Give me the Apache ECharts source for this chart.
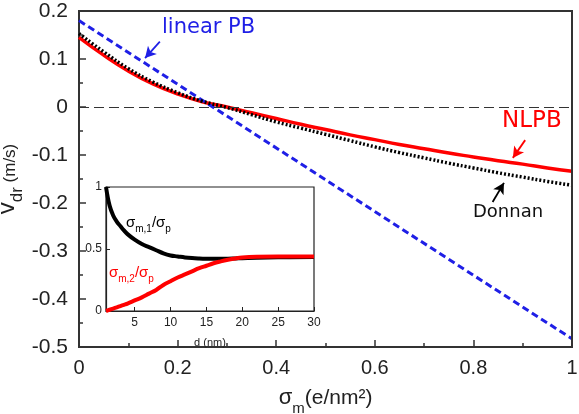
<!DOCTYPE html>
<html>
<head>
<meta charset="utf-8">
<script src="https://cdn.jsdelivr.net/npm/echarts@6/dist/echarts.min.js"></script>
<style>
  html, body { margin: 0; padding: 0; background: #fff; }
  #Chart1 { width: 579px; height: 414px; }
</style>
</head>
<body>
<div id="Chart1"></div>
<script>
// main plot data: drift velocity vs membrane charge
const sigmaM = [0, 0.05, 0.1, 0.15, 0.2, 0.25, 0.3, 0.35, 0.4, 0.45, 0.5, 0.55, 0.6, 0.65, 0.7, 0.75, 0.8, 0.85, 0.9, 0.95, 1.0];
const nlpb = [0.145, 0.108, 0.075, 0.048, 0.027, 0.011, 0.0, -0.012, -0.024, -0.036, -0.047, -0.058, -0.068, -0.078, -0.087, -0.096, -0.104, -0.112, -0.119, -0.127, -0.134];
const donnan = [0.153, 0.115, 0.08, 0.052, 0.03, 0.012, -0.001, -0.016, -0.031, -0.044, -0.057, -0.07, -0.083, -0.095, -0.106, -0.117, -0.127, -0.137, -0.146, -0.155, -0.163];
const linearX = [0, 1];
const linearPB = [0.18, -0.483];

// inset data: charge fractions vs distance
const dNm = [1, 1.5, 2, 2.5, 3, 3.5, 4, 5, 6, 7, 8, 9, 10, 11, 12, 13, 14, 15, 16, 17, 18, 19, 20, 22, 25, 30];
const ratio1 = [1.0, 0.85, 0.77, 0.72, 0.685, 0.65, 0.62, 0.575, 0.54, 0.515, 0.49, 0.465, 0.448, 0.44, 0.432, 0.427, 0.424, 0.422, 0.421, 0.421, 0.422, 0.424, 0.426, 0.43, 0.433, 0.435];
const ratio2 = [0, 0.01, 0.02, 0.03, 0.04, 0.05, 0.06, 0.085, 0.11, 0.14, 0.17, 0.21, 0.24, 0.27, 0.295, 0.32, 0.345, 0.365, 0.385, 0.4, 0.413, 0.424, 0.432, 0.438, 0.44, 0.44];
const insetTicks = [5, 10, 15, 20, 25, 30];

const zip = (xs, ys) => xs.map((x, i) => [x, ys[i]]);

const myChart = echarts.init(document.getElementById("Chart1"));

const axisFont = "Liberation Sans, Arial, sans-serif";
const noteFont = "DejaVu Sans, Verdana, sans-serif";
const frame = "#333";

const arrow = (from, to, color) => ({
  silent: true,
  symbol: ["none", "arrow"],
  symbolSize: [9, 11],
  label: { show: false },
  lineStyle: { color: color, type: "solid", width: 1.8 },
  data: [[{ coord: from }, { coord: to }]],
});

// frame line for the top and right of the main plot
const mirror = {
  show: true, gridIndex: 0, type: "value",
  axisLine: { show: true, onZero: false, lineStyle: { color: frame, width: 2 } },
  axisTick: { show: false }, axisLabel: { show: false }, splitLine: { show: false },
  z: 10,
};

const option = {
  animation: false,
  grid: [
    { left: 79, right: 7, top: 11, bottom: 67, outerBoundsMode: "none", show: true, borderColor: frame, borderWidth: 2 },
    { left: 106, top: 187, width: 208, height: 124, outerBoundsMode: "none", show: true, backgroundColor: "#fff", borderColor: "#222", borderWidth: 1.2, z: 5 },
  ],
  xAxis: [
    {
      gridIndex: 0, type: "value", min: 0, max: 1, interval: 0.2,
      axisLine: { show: true, onZero: false, lineStyle: { color: frame, width: 1.5 } },
      axisTick: { inside: true, length: 7, lineStyle: { color: frame, width: 1.5 } },
      minorTick: { show: true, splitNumber: 2, length: 4, lineStyle: { color: frame, width: 1.5 } },
      splitLine: { show: false },
      axisLabel: { fontFamily: axisFont, fontSize: 20, color: "#222", margin: 11 },
      name: "{s|σ}{sub|m}{n|(e/nm²)}",
      nameLocation: "middle",
      nameGap: 34,
      nameMoveOverlap: false,
      nameTextStyle: {
        rich: {
          s: { fontFamily: axisFont, fontSize: 22, color: "#222", verticalAlign: "bottom", lineHeight: 28 },
          sub: { fontFamily: axisFont, fontSize: 15, color: "#222", verticalAlign: "bottom", padding: [0, 0, -7, 0], lineHeight: 28 },
          n: { fontFamily: axisFont, fontSize: 21, color: "#222", verticalAlign: "bottom", lineHeight: 28 },
        },
      },
    },
    {
      gridIndex: 1, type: "value", min: 1, max: 30,
      axisLine: { show: true, onZero: false, lineStyle: { color: "#222", width: 1.2 } },
      axisTick: { inside: true, length: 4, customValues: insetTicks, lineStyle: { color: "#222" } },
      splitLine: { show: false },
      axisLabel: { fontFamily: axisFont, fontSize: 12, color: "#222", margin: 6, customValues: insetTicks },
      name: "d (nm)",
      nameLocation: "middle",
      nameGap: 26,
      nameMoveOverlap: false,
      nameTextStyle: { fontFamily: axisFont, fontSize: 11, color: "#222" },
      z: 6,
    },
    Object.assign({ position: "top", min: 0, max: 1 }, mirror),
  ],
  yAxis: [
    {
      gridIndex: 0, type: "value", min: -0.5, max: 0.2, interval: 0.1,
      axisLine: { show: true, onZero: false, lineStyle: { color: frame, width: 1.5 } },
      axisTick: { inside: true, length: 7, lineStyle: { color: frame, width: 1.5 } },
      minorTick: { show: true, splitNumber: 2, length: 4, lineStyle: { color: frame, width: 1.5 } },
      splitLine: { show: false },
      axisLabel: { fontFamily: axisFont, fontSize: 21, color: "#222", margin: 11 },
      name: "{v|v}{sub|dr}{n| (m/s)}",
      nameLocation: "middle",
      nameRotate: 90,
      nameGap: 60,
      nameMoveOverlap: false,
      nameTextStyle: {
        rich: {
          v: { fontFamily: axisFont, fontSize: 24, color: "#222", verticalAlign: "bottom", lineHeight: 20 },
          sub: { fontFamily: axisFont, fontSize: 17, color: "#222", verticalAlign: "bottom", padding: [0, 0, -7, 0], lineHeight: 20 },
          n: { fontFamily: axisFont, fontSize: 17, color: "#222", verticalAlign: "bottom", lineHeight: 20 },
        },
      },
    },
    {
      gridIndex: 1, type: "value", min: 0, max: 1, interval: 0.5,
      axisLine: { show: true, onZero: false, lineStyle: { color: "#222", width: 1.2 } },
      axisTick: { inside: true, length: 4, lineStyle: { color: "#222" } },
      splitLine: { show: false },
      axisLabel: { fontFamily: axisFont, fontSize: 12, color: "#222", margin: 4 },
      z: 6,
    },
    Object.assign({ position: "right", min: -0.5, max: 0.2 }, mirror),
  ],
  series: [
    {
      name: "linear PB", type: "line", xAxisIndex: 0, yAxisIndex: 0,
      data: zip(linearX, linearPB), showSymbol: false,
      lineStyle: { color: "#1f1fe6", width: 3, type: [7, 4] },
      markLine: arrow([0.164, 0.136], [0.134, 0.102], "#1f1fe6"),
      z: 3,
    },
    {
      name: "NLPB", type: "line", xAxisIndex: 0, yAxisIndex: 0,
      data: zip(sigmaM, nlpb), showSymbol: false, smooth: true,
      lineStyle: { color: "#ff0000", width: 3.5 },
      markLine: arrow([0.905, -0.069], [0.88, -0.106], "#ff0000"),
      z: 2,
    },
    {
      name: "Donnan", type: "line", xAxisIndex: 0, yAxisIndex: 0,
      data: zip(sigmaM, donnan), showSymbol: false, smooth: true,
      lineStyle: { color: "#000", width: 3.5, type: [2, 2] },
      markLine: arrow([0.839, -0.198], [0.862, -0.158], "#000"),
      z: 3,
    },
    {
      // zero line, bound to the mirror axes so they are laid out too
      name: "zero", type: "line", xAxisIndex: 2, yAxisIndex: 2,
      data: [], showSymbol: false,
      markLine: {
        silent: true, symbol: ["none", "none"], label: { show: false },
        lineStyle: { color: "#333", type: [10, 5], width: 1.2 },
        data: [{ yAxis: 0 }],
      },
      z: 1,
    },
    {
      name: "sigma_m1", type: "line", xAxisIndex: 1, yAxisIndex: 1,
      data: zip(dNm, ratio1), showSymbol: false, smooth: 0.4,
      lineStyle: { color: "#000", width: 4 }, z: 7,
    },
    {
      name: "sigma_m2", type: "line", xAxisIndex: 1, yAxisIndex: 1,
      data: zip(dNm, ratio2), showSymbol: false, smooth: 0.4,
      lineStyle: { color: "#ff0000", width: 4 }, z: 7,
    },
  ],
  graphic: [
    { type: "text", left: 162, top: 17, z: 20, style: { text: "linear PB", font: "21px " + noteFont, fill: "#1f1fe6" } },
    { type: "text", left: 502, top: 110, z: 20, style: { text: "NLPB", font: "23px " + noteFont, fill: "#ff0000" } },
    { type: "text", left: 473, top: 203, z: 20, style: { text: "Donnan", font: "18px " + noteFont, fill: "#111" } },
    {
      type: "text", left: 126, top: 215, z: 20,
      style: {
        text: "{s|σ}{b|m,1}{s|/σ}{b|p}",
        rich: {
          s: { fontFamily: axisFont, fontSize: 15, fill: "#000", verticalAlign: "bottom", lineHeight: 20 },
          b: { fontFamily: axisFont, fontSize: 10, fill: "#000", verticalAlign: "bottom", padding: [0, 0, -4, 0], lineHeight: 20 },
        },
      },
    },
    {
      type: "text", left: 109, top: 265, z: 20,
      style: {
        text: "{s|σ}{b|m,2}{s|/σ}{b|p}",
        rich: {
          s: { fontFamily: axisFont, fontSize: 15, fill: "#ff0000", verticalAlign: "bottom", lineHeight: 20 },
          b: { fontFamily: axisFont, fontSize: 10, fill: "#ff0000", verticalAlign: "bottom", padding: [0, 0, -4, 0], lineHeight: 20 },
        },
      },
    },
  ],
};

myChart.setOption(option);
</script>
</body>
</html>
